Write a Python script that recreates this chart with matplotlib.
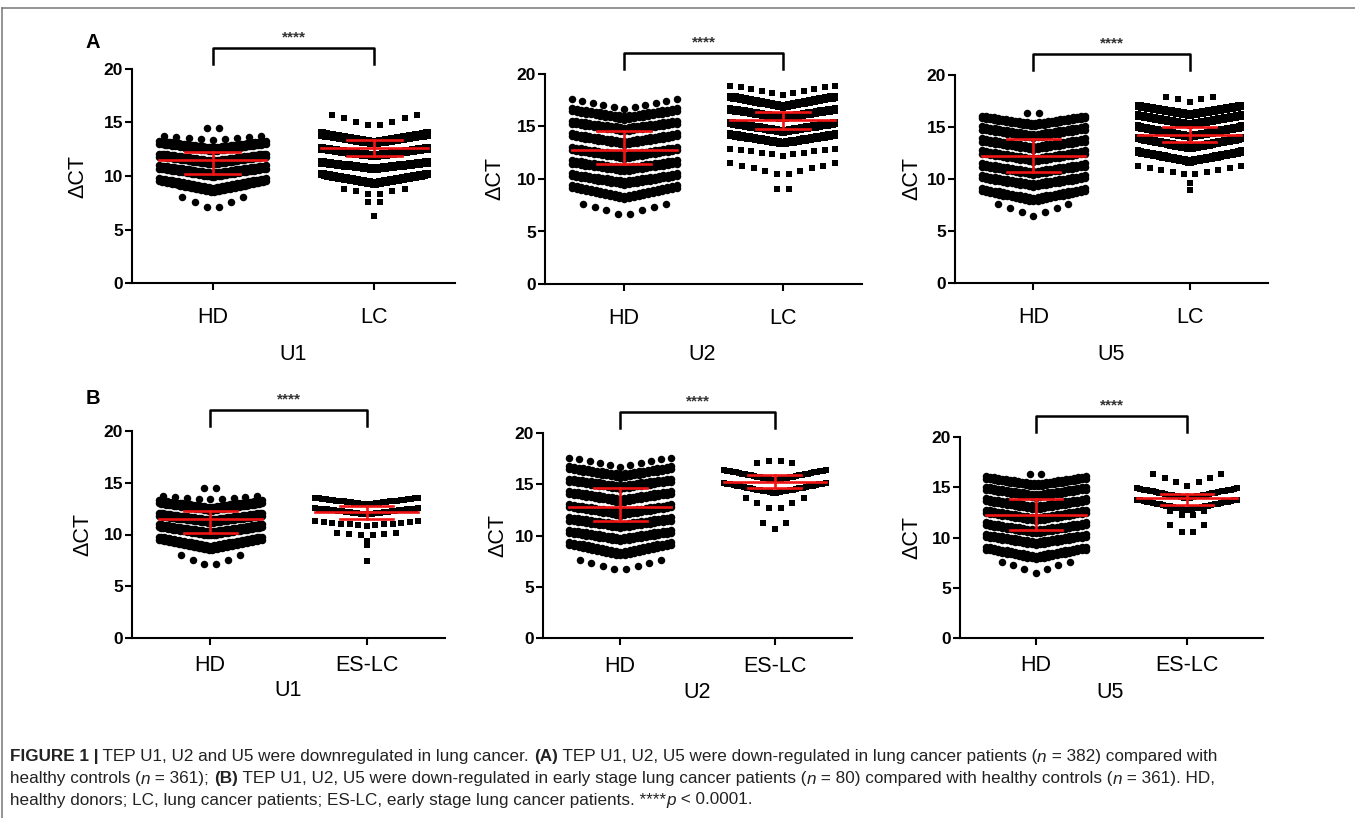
import numpy as np
import matplotlib
matplotlib.use("Agg")
import matplotlib.pyplot as plt
from matplotlib.lines import Line2D

plt.rcParams['font.family'] = ['Liberation Sans', 'DejaVu Sans']

# each row of a swarm: (value at centre, value at outer edge, number of points)
u1_hd = [(6.9, 8.0, 6), (8.5, 9.5, 42), (8.9, 9.8, 42), (9.9, 10.7, 44), (10.3, 11.0, 44),
         (11.1, 11.8, 45), (11.45, 12.1, 45), (12.3, 13.0, 42), (12.65, 13.3, 40),
         (13.4, 13.7, 9), (14.1, 14.5, 2)]
u1_lc = [(6.3, 6.3, 1), (7.5, 7.6, 2), (8.2, 8.8, 6), (9.15, 10.05, 38), (9.45, 10.3, 38),
         (10.55, 11.15, 42), (10.8, 11.4, 42), (11.75, 12.45, 48), (12.0, 12.7, 48),
         (12.95, 13.75, 55), (13.25, 14.1, 54), (14.6, 15.7, 8)]
u2_hd = [(6.55, 7.6, 8), (8.05, 9.1, 23), (8.4, 9.4, 23), (9.45, 10.25, 25), (9.8, 10.55, 25),
         (10.75, 11.45, 25), (11.1, 11.8, 25), (11.95, 12.75, 25), (12.3, 13.05, 25),
         (13.25, 14.05, 25), (13.6, 14.35, 25), (14.55, 15.25, 25), (14.9, 15.55, 25),
         (15.65, 16.45, 23), (16.0, 16.75, 23), (16.7, 17.6, 11)]
u2_lc = [(9.0, 9.0, 2), (10.4, 11.5, 10), (12.2, 12.9, 11), (13.3, 14.1, 44), (13.55, 14.35, 44),
         (14.4, 15.2, 44), (14.65, 15.45, 44), (15.7, 16.5, 44), (15.95, 16.75, 44),
         (16.8, 17.7, 43), (17.05, 17.95, 41), (18.0, 18.9, 11)]
u5_hd = [(6.45, 7.6, 7), (7.85, 8.8, 25), (8.2, 9.1, 25), (9.25, 10.05, 25), (9.6, 10.35, 25),
         (10.4, 11.2, 25), (10.75, 11.5, 25), (11.65, 12.45, 25), (12.0, 12.75, 25),
         (12.8, 13.6, 25), (13.15, 13.9, 25), (13.95, 14.75, 25), (14.3, 15.05, 25),
         (15.05, 15.85, 26), (15.35, 16.1, 26), (16.35, 16.35, 2)]
u5_lc = [(8.95, 8.95, 1), (9.6, 9.6, 1), (10.4, 11.25, 10), (11.55, 12.5, 36), (11.8, 12.75, 36),
         (12.85, 13.8, 37), (13.1, 14.05, 37), (13.95, 14.9, 37), (14.2, 15.15, 37),
         (15.1, 16.0, 37), (15.35, 16.25, 37), (16.05, 16.9, 36), (16.3, 17.15, 35),
         (17.4, 17.9, 5)]
u1_es = [(7.45, 7.45, 1), (8.95, 8.95, 1), (9.4, 9.4, 1), (9.95, 10.1, 6), (10.8, 11.3, 13),
         (11.95, 12.55, 28), (12.9, 13.55, 30)]
u2_es = [(10.6, 11.25, 3), (12.4, 13.65, 6), (14.15, 15.1, 32), (15.4, 16.4, 35), (17.3, 17.1, 4)]
u5_es = [(10.25, 11.2, 4), (12.1, 12.6, 4), (12.75, 13.75, 32), (13.9, 14.9, 33), (15.1, 16.3, 7)]

# mean, lower bar, upper bar
u1_hd_stat = (11.45, 10.15, 12.25)
u1_lc_stat = (12.65, 11.9, 13.4)
u2_hd_stat = (12.8, 11.4, 14.6)
u2_lc_stat = (15.65, 14.8, 16.35)
u5_hd_stat = (12.2, 10.7, 13.8)
u5_lc_stat = (14.2, 13.55, 15.0)
u1_es_stat = (12.2, 11.45, 12.8)
u2_es_stat = (15.25, 14.6, 15.95)
u5_es_stat = (13.9, 13.2, 14.3)

W, H = 1355, 818
fig = plt.figure(figsize=(W / 100, H / 100), dpi=100)


def px_axes(l, t, r, b):
    return fig.add_axes([l / W, 1 - b / H, (r - l) / W, (b - t) / H])


def swarm(ax, rows, xc, marker, ms):
    xs, ys = [], []
    for mid, edge, n in rows:
        hw = min((n - 1) * 0.075 / 2, 0.33)
        off = np.linspace(-hw, hw, n) if n > 1 else np.array([0.0])
        frac = np.abs(off) / hw if hw > 0 else off * 0
        xs.append(xc + off)
        ys.append(mid + (edge - mid) * frac)
    ax.plot(np.concatenate(xs), np.concatenate(ys), ls='none', marker=marker, ms=ms,
            color='black', mec='black', mew=0, clip_on=False, zorder=2)


def stats(ax, xc, st):
    m, lo, hi = st
    ax.plot([xc - 0.33, xc + 0.33], [m, m], color='#f01414', lw=1.9, zorder=3, clip_on=False)
    ax.plot([xc, xc], [lo, hi], color='#f01414', lw=1.9, zorder=3)
    for v in (lo, hi):
        ax.plot([xc - 0.17, xc + 0.17], [v, v], color='#f01414', lw=1.9, zorder=3)


panels = [
    ((132, 69, 455, 283), u1_hd, u1_lc, u1_hd_stat, u1_lc_stat, 'LC', 88, 12, 'U1', (293, 355), 'A'),
    ((545, 74, 862, 284), u2_hd, u2_lc, u2_hd_stat, u2_lc_stat, 'LC', 505, 12, 'U2', (702, 355), None),
    ((955, 75, 1268, 283), u5_hd, u5_lc, u5_hd_stat, u5_lc_stat, 'LC', 922, 12, 'U5', (1111, 355), None),
    ((132, 431, 445, 638), u1_hd, u1_es, u1_hd_stat, u1_es_stat, 'ES-LC', 93, 7, 'U1', (288, 690), 'B'),
    ((543, 433, 852, 638), u2_hd, u2_es, u2_hd_stat, u2_es_stat, 'ES-LC', 508, 8, 'U2', (697, 692), None),
    ((960, 437, 1263, 638), u5_hd, u5_es, u5_hd_stat, u5_es_stat, 'ES-LC', 922, 7, 'U5', (1110, 692), None),
]

for box, hd, other, hd_st, ot_st, lab, ylab_x, pad, gene, gpos, letter in panels:
    l, t, r, b = box
    ax = px_axes(l, t, r, b)
    ax.set_xlim(-0.5, 1.5)
    ax.set_ylim(0, 20)
    for s in ('top', 'right'):
        ax.spines[s].set_visible(False)
    for s in ('left', 'bottom'):
        ax.spines[s].set_linewidth(1.5)
    swarm(ax, hd, 0, 'o', 5.4)
    swarm(ax, other, 1, 's', 5.0)
    stats(ax, 0, hd_st)
    stats(ax, 1, ot_st)
    ax.set_yticks([0, 5, 10, 15, 20])
    ax.set_xticks([0, 1])
    ax.set_xticklabels(['HD', lab], fontsize=15.5)
    ax.tick_params(axis='y', length=5, width=1.5, pad=1.5, labelsize=12.5)
    ax.tick_params(axis='x', length=5, width=1.5, pad=pad)
    for tl in ax.get_yticklabels():
        tl.set_fontweight('bold')
    h = b - t
    ax.set_ylabel('\u0394CT', fontsize=15.5)
    ax.yaxis.set_label_coords((ylab_x - l) / (r - l), 0.5)
    tr = ax.get_xaxis_transform()
    ax.plot([0, 0, 1, 1], [1 + 5 / h, 1 + 21 / h, 1 + 21 / h, 1 + 5 / h], color='black', lw=1.8,
            transform=tr, clip_on=False)
    ax.text(0.5, 1 + 28 / h, '****', transform=tr, ha='center', va='baseline', fontsize=11,
            fontweight='bold', color='#333333')
    fig.text(gpos[0] / W, 1 - gpos[1] / H, gene, ha='center', va='center', fontsize=15.5)
    if letter:
        fig.text(93 / W, 1 - (42 if letter == 'A' else 398) / H, letter, ha='center', va='center',
                 fontsize=14.5, fontweight='bold')

# frame
fig.add_artist(Line2D([2 / W, 1], [1 - 8 / H, 1 - 8 / H], color='#777777', lw=1.1, transform=fig.transFigure))
fig.add_artist(Line2D([2 / W, 2 / W], [1 - 8 / H, 0], color='#777777', lw=1.1, transform=fig.transFigure))

# caption
cap_family = ['Liberation Sans Narrow', 'Liberation Sans']
caption = [
    [("FIGURE 1 |", 'b'), (" TEP U1, U2 and U5 were downregulated in lung cancer. ", ''), ("(A)", 'b'),
     (" TEP U1, U2, U5 were down-regulated in lung cancer patients (", ''), ("n", 'i'),
     (" = 382) compared with", '')],
    [("healthy controls (", ''), ("n", 'i'), (" = 361); ", ''), ("(B)", 'b'),
     (" TEP U1, U2, U5 were down-regulated in early stage lung cancer patients (", ''), ("n", 'i'),
     (" = 80) compared with healthy controls (", ''), ("n", 'i'), (" = 361). HD,", '')],
    [("healthy donors; LC, lung cancer patients; ES-LC, early stage lung cancer patients. ****", ''),
     ("p", 'i'), (" < 0.0001.", '')],
]
cap_y = [757, 779, 800]
renderer = fig.canvas.get_renderer()


def width_of(txt, size, style):
    t = fig.text(0, 0, txt + '|', fontsize=size, family=cap_family,
                 fontweight='bold' if 'b' in style else 'normal',
                 fontstyle='italic' if 'i' in style else 'normal')
    t2 = fig.text(0, 0, '|', fontsize=size, family=cap_family,
                  fontweight='bold' if 'b' in style else 'normal',
                  fontstyle='italic' if 'i' in style else 'normal')
    w = t.get_window_extent(renderer).width - t2.get_window_extent(renderer).width
    t.remove()
    t2.remove()
    return w


# fit font size so that first line spans like the reference
size = 10
w1 = sum(width_of(p, size, s) for p, s in caption[0])
size = size * 1212 / w1

for line, y in zip(caption, cap_y):
    x = 10
    for txt, style in line:
        fig.text(x / W, 1 - y / H, txt, fontsize=size, family=cap_family, va='center', ha='left',
                 fontweight='bold' if 'b' in style else 'normal',
                 fontstyle='italic' if 'i' in style else 'normal', color='#222222')
        x += width_of(txt, size, style)

fig.savefig('out.png', dpi=100)
